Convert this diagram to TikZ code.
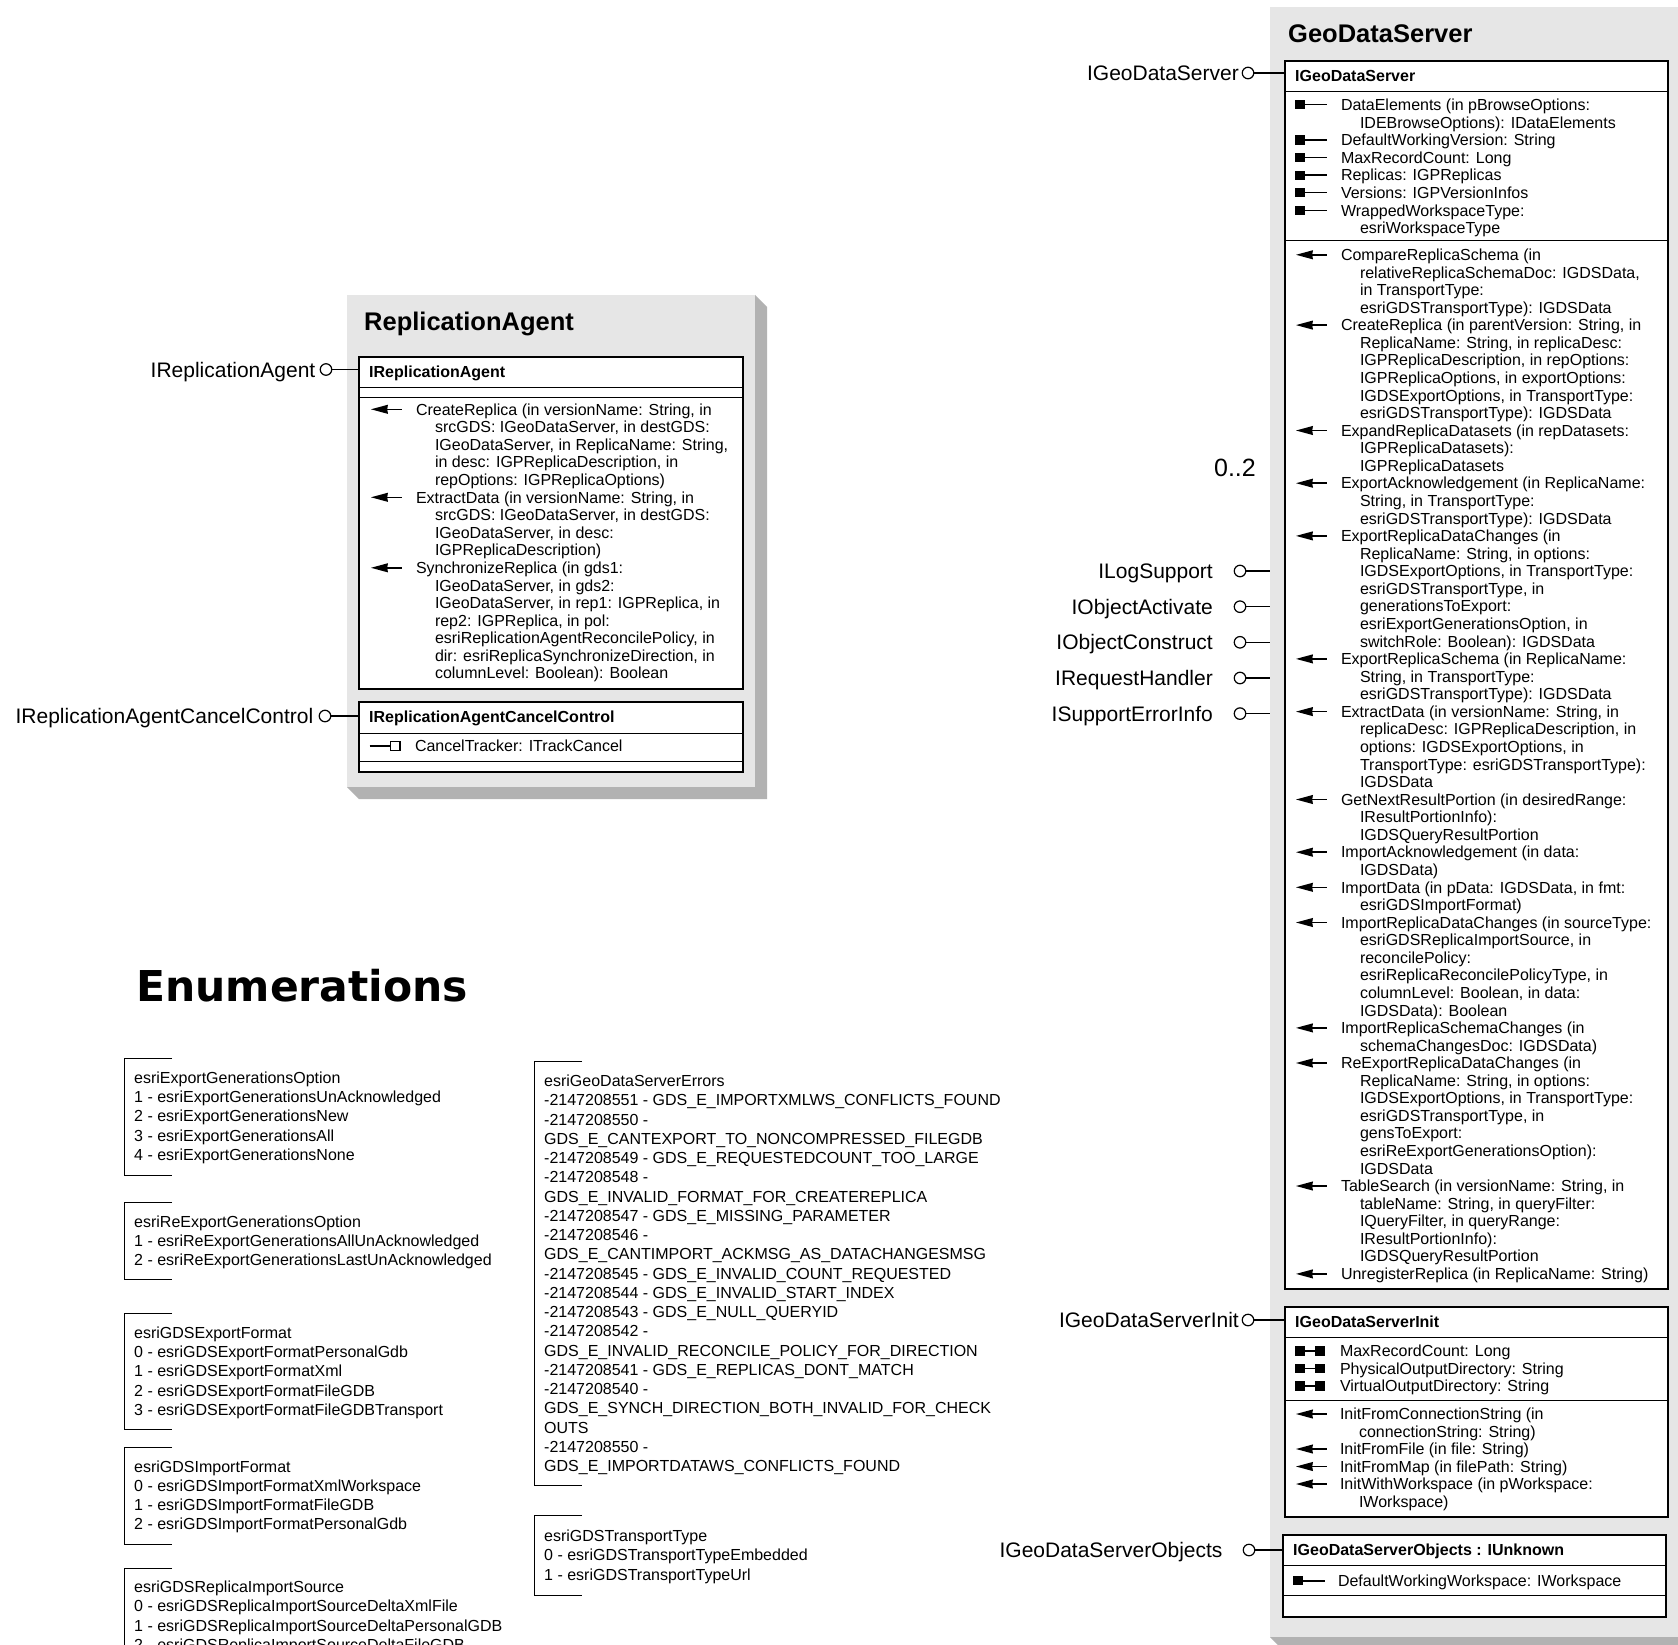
\documentclass[tikz,border=0pt]{standalone}
\usepackage{fontspec}
\setmainfont{Liberation Sans}
\newfontfamily\enumfont{DejaVu Sans}
\definecolor{facegray}{RGB}{230,230,230}
\definecolor{shadowgray}{RGB}{178,178,178}
\newcommand\mlns[2][17.57pt]{\vtop{\baselineskip=#1\lineskiplimit=-50pt\lineskip=0pt\halign{##\hfil\cr#2\crcr}}}
\newcommand\ci{\hskip19pt}
\newcommand\mem[6]{\pic at (#3,#5-5.7) {#2};\node[memtext] (#1) at (#4,#5) {\mlns{#6}};}
\tikzset{
 pget/.pic={\fill[black] (0,-4.6) rectangle (10,4.6); \draw[black,line width=1.4pt] (10,0) -- (32,0);},
 pgetset/.pic={\fill[black] (0,-4.6) rectangle (10,4.6); \fill[black] (20,-4.6) rectangle (30,4.6); \draw[black,line width=1.4pt] (10,0) -- (20,0);},
 pputref/.pic={\draw[black,line width=1.4pt] (0,0) -- (21,0); \draw[black,line width=1.2pt,fill=white] (21,-4.4) rectangle (30.5,4.4);},
 meth/.pic={\fill[black] (0,0) -- (17,-4.6) -- (16.2,0) -- (17,4.6) -- cycle; \draw[black,line width=1.5pt] (15,0) -- (31,0);},
 memtext/.style={anchor=base west, inner sep=0pt, outer sep=0pt, font=\fontsize{16}{17.57}\selectfont},
 hdrtext/.style={anchor=base west, inner sep=0pt, font=\bfseries\fontsize{16}{18}\selectfont},
 titletext/.style={anchor=base west, inner sep=0pt, font=\bfseries\fontsize{25.5}{28}\selectfont},
 lolltext/.style={anchor=base east, inner sep=0pt, font=\fontsize{21}{24}\selectfont},
 enumtext/.style={anchor=base west, inner sep=0pt, font=\fontsize{16}{19.25}\selectfont},
 face/.style={fill=facegray, draw=none, rectangle, anchor=north west, inner sep=0pt, outer sep=0pt},
 ibox/.style={draw=black, line width=1.8pt, fill=white, rectangle, anchor=north west, inner sep=0pt, outer sep=0pt},
 divider/.style={draw=black, line width=0.9pt},
 lolli/.style={draw=black, line width=1.2pt, fill=white, circle, inner sep=0pt, outer sep=0pt, minimum size=11.5pt},
 conn/.style={draw=black, line width=1.2pt},
 bracket/.style={draw=black, line width=1pt},
}
\begin{document}
\begin{tikzpicture}[x=1pt,y=-1pt]
\useasboundingbox (0,0) rectangle (1678,1645);
\clip (0,0) rectangle (1678,1645);
\fill[white] (0,0) rectangle (1678,1645);

% ---------------- ReplicationAgent ----------------
\node[face, minimum width=408, minimum height=492] (ra) at (347,295) {};
\fill[shadowgray] (755,295) -- (767,307) -- (767,799) -- (359,799) -- (347,787) -- (755,787) -- cycle;
\node[titletext] (ratitle) at (364,330) {ReplicationAgent};
\node[ibox, minimum width=384, minimum height=332] (ira) at (359,357) {};
\draw[divider] (359,387) -- (743,387);
\draw[divider] (359,397) -- (743,397);
\node[hdrtext] (irahdr) at (369,377) {IReplicationAgent};
\mem{racreate}{meth}{371}{416}{415}{CreateReplica (in versionName: String, in\cr\ci srcGDS: IGeoDataServer, in destGDS:\cr\ci IGeoDataServer, in ReplicaName: String,\cr\ci in desc: IGPReplicaDescription, in\cr\ci repOptions: IGPReplicaOptions)}
\mem{raextract}{meth}{371}{416}{503}{ExtractData (in versionName: String, in\cr\ci srcGDS: IGeoDataServer, in destGDS:\cr\ci IGeoDataServer, in desc:\cr\ci IGPReplicaDescription)}
\mem{rasync}{meth}{371}{416}{573.5}{SynchronizeReplica (in gds1:\cr\ci IGeoDataServer, in gds2:\cr\ci IGeoDataServer, in rep1: IGPReplica, in\cr\ci rep2: IGPReplica, in pol:\cr\ci esriReplicationAgentReconcilePolicy, in\cr\ci dir: esriReplicaSynchronizeDirection, in\cr\ci columnLevel: Boolean): Boolean}
\node[ibox, minimum width=384, minimum height=70] (iracc) at (359,702) {};
\draw[divider] (359,733) -- (743,733);
\draw[divider] (359,761) -- (743,761);
\node[hdrtext] (iracchdr) at (369,722.5) {IReplicationAgentCancelControl};
\mem{racancel}{pputref}{369.5}{415}{751.5}{CancelTracker: ITrackCancel}

\node[lolli] (lra) at (326,369.5) {};
\draw[conn] (lra.east) -- (lra.east -| ira.west);
\node[lolltext] (lratext) at (315.5,377) {IReplicationAgent};
\node[lolli] (lracc) at (325,716) {};
\draw[conn] (lracc.east) -- (lracc.east -| iracc.west);
\node[lolltext] (lracctext) at (313.5,723.5) {IReplicationAgentCancelControl};

% ---------------- GeoDataServer ----------------
\node[face, minimum width=420, minimum height=1630] (gds) at (1270,7) {};
\fill[shadowgray] (1690,7) -- (1702,19) -- (1702,1649) -- (1282,1649) -- (1270,1637) -- (1690,1637) -- cycle;
\node[titletext] (gdstitle) at (1288,42.5) {GeoDataServer};
\node[ibox, minimum width=383, minimum height=1228] (igds) at (1285,61) {};
\draw[divider] (1285,91) -- (1668,91);
\draw[divider] (1285,240) -- (1668,240);
\node[hdrtext] (igdshdr) at (1295,81.5) {IGeoDataServer};
\mem{gp1}{pget}{1295}{1341}{110.5}{DataElements (in pBrowseOptions:\cr\ci IDEBrowseOptions): IDataElements}
\mem{gp2}{pget}{1295}{1341}{145.7}{DefaultWorkingVersion: String}
\mem{gp3}{pget}{1295}{1341}{163.3}{MaxRecordCount: Long}
\mem{gp4}{pget}{1295}{1341}{180.9}{Replicas: IGPReplicas}
\mem{gp5}{pget}{1295}{1341}{198.5}{Versions: IGPVersionInfos}
\mem{gp6}{pget}{1295}{1341}{216.1}{WrappedWorkspaceType:\cr\ci esriWorkspaceType}

\mem{gm1}{meth}{1296}{1341}{260.5}{CompareReplicaSchema (in\cr\ci relativeReplicaSchemaDoc: IGDSData,\cr\ci in TransportType:\cr\ci esriGDSTransportType): IGDSData}
\mem{gm2}{meth}{1296}{1341}{330.8}{CreateReplica (in parentVersion: String, in\cr\ci ReplicaName: String, in replicaDesc:\cr\ci IGPReplicaDescription, in repOptions:\cr\ci IGPReplicaOptions, in exportOptions:\cr\ci IGDSExportOptions, in TransportType:\cr\ci esriGDSTransportType): IGDSData}
\mem{gm3}{meth}{1296}{1341}{436.2}{ExpandReplicaDatasets (in repDatasets:\cr\ci IGPReplicaDatasets):\cr\ci IGPReplicaDatasets}
\mem{gm4}{meth}{1296}{1341}{488.9}{ExportAcknowledgement (in ReplicaName:\cr\ci String, in TransportType:\cr\ci esriGDSTransportType): IGDSData}
\mem{gm5}{meth}{1296}{1341}{541.6}{ExportReplicaDataChanges (in\cr\ci ReplicaName: String, in options:\cr\ci IGDSExportOptions, in TransportType:\cr\ci esriGDSTransportType, in\cr\ci generationsToExport:\cr\ci esriExportGenerationsOption, in\cr\ci switchRole: Boolean): IGDSData}
\mem{gm6}{meth}{1296}{1341}{664.6}{ExportReplicaSchema (in ReplicaName:\cr\ci String, in TransportType:\cr\ci esriGDSTransportType): IGDSData}
\mem{gm7}{meth}{1296}{1341}{717.3}{ExtractData (in versionName: String, in\cr\ci replicaDesc: IGPReplicaDescription, in\cr\ci options: IGDSExportOptions, in\cr\ci TransportType: esriGDSTransportType):\cr\ci IGDSData}
\mem{gm8}{meth}{1296}{1341}{805.2}{GetNextResultPortion (in desiredRange:\cr\ci IResultPortionInfo):\cr\ci IGDSQueryResultPortion}
\mem{gm9}{meth}{1296}{1341}{857.9}{ImportAcknowledgement (in data:\cr\ci IGDSData)}
\mem{gm10}{meth}{1296}{1341}{893.0}{ImportData (in pData: IGDSData, in fmt:\cr\ci esriGDSImportFormat)}
\mem{gm11}{meth}{1296}{1341}{928.2}{ImportReplicaDataChanges (in sourceType:\cr\ci esriGDSReplicaImportSource, in\cr\ci reconcilePolicy:\cr\ci esriReplicaReconcilePolicyType, in\cr\ci columnLevel: Boolean, in data:\cr\ci IGDSData): Boolean}
\mem{gm12}{meth}{1296}{1341}{1033.6}{ImportReplicaSchemaChanges (in\cr\ci schemaChangesDoc: IGDSData)}
\mem{gm13}{meth}{1296}{1341}{1068.7}{ReExportReplicaDataChanges (in\cr\ci ReplicaName: String, in options:\cr\ci IGDSExportOptions, in TransportType:\cr\ci esriGDSTransportType, in\cr\ci gensToExport:\cr\ci esriReExportGenerationsOption):\cr\ci IGDSData}
\mem{gm14}{meth}{1296}{1341}{1191.7}{TableSearch (in versionName: String, in\cr\ci tableName: String, in queryFilter:\cr\ci IQueryFilter, in queryRange:\cr\ci IResultPortionInfo):\cr\ci IGDSQueryResultPortion}
\mem{gm15}{meth}{1296}{1341}{1279.6}{UnregisterReplica (in ReplicaName: String)}

\node[ibox, minimum width=383, minimum height=210] (init) at (1285,1307) {};
\draw[divider] (1285,1337) -- (1668,1337);
\draw[divider] (1285,1400) -- (1668,1400);
\node[hdrtext] (inithdr) at (1295,1327.5) {IGeoDataServerInit};
\mem{ip1}{pgetset}{1295}{1340}{1356.7}{MaxRecordCount: Long}
\mem{ip2}{pgetset}{1295}{1340}{1374.2}{PhysicalOutputDirectory: String}
\mem{ip3}{pgetset}{1295}{1340}{1391.7}{VirtualOutputDirectory: String}
\mem{im1}{meth}{1296}{1340}{1419.7}{InitFromConnectionString (in\cr\ci connectionString: String)}
\mem{im2}{meth}{1296}{1340}{1454.7}{InitFromFile (in file: String)}
\mem{im3}{meth}{1296}{1340}{1472.2}{InitFromMap (in filePath: String)}
\mem{im4}{meth}{1296}{1340}{1489.7}{InitWithWorkspace (in pWorkspace:\cr\ci IWorkspace)}

\node[ibox, minimum width=383, minimum height=82] (objs) at (1283,1535) {};
\draw[divider] (1283,1565) -- (1666,1565);
\draw[divider] (1283,1595) -- (1666,1595);
\node[hdrtext] (objshdr) at (1293,1555) {IGeoDataServerObjects : IUnknown};
\mem{op1}{pget}{1293}{1338}{1586.5}{DefaultWorkingWorkspace: IWorkspace}

\node[lolli] (lgds) at (1248,73) {};
\draw[conn] (lgds.east) -- (lgds.east -| igds.west);
\node[lolltext] (lgdstext) at (1239,80.5) {IGeoDataServer};
\node[anchor=base east, inner sep=0pt, font=\fontsize{25}{28}\selectfont] (mult) at (1256,476.5) {0..2};

\node[lolli] (l1) at (1240,571) {};
\draw[conn] (l1.east) -- (l1.east -| gds.west);
\node[lolltext] (l1t) at (1213,578.5) {ILogSupport};
\node[lolli] (l2) at (1240,606.7) {};
\draw[conn] (l2.east) -- (l2.east -| gds.west);
\node[lolltext] (l2t) at (1213,614.2) {IObjectActivate};
\node[lolli] (l3) at (1240,642.3) {};
\draw[conn] (l3.east) -- (l3.east -| gds.west);
\node[lolltext] (l3t) at (1213,649.8) {IObjectConstruct};
\node[lolli] (l4) at (1240,678) {};
\draw[conn] (l4.east) -- (l4.east -| gds.west);
\node[lolltext] (l4t) at (1213,685.5) {IRequestHandler};
\node[lolli] (l5) at (1240,713.6) {};
\draw[conn] (l5.east) -- (l5.east -| gds.west);
\node[lolltext] (l5t) at (1213,721.1) {ISupportErrorInfo};

\node[lolli] (linit) at (1248,1320) {};
\draw[conn] (linit.east) -- (linit.east -| init.west);
\node[lolltext] (linitt) at (1239,1327.5) {IGeoDataServerInit};
\node[lolli] (lobjs) at (1249,1550) {};
\draw[conn] (lobjs.east) -- (lobjs.east -| objs.west);
\node[lolltext] (lobjst) at (1222.7,1557.5) {IGeoDataServerObjects};

% ---------------- Enumerations ----------------
\node[anchor=base west, inner sep=0pt, font=\enumfont\bfseries\fontsize{42.5}{48}\selectfont] (enumtitle) at (136,1001) {Enumerations};

\draw[bracket] (172,1058) -- (124,1058) -- (124,1175) -- (172,1175);
\node[enumtext] (en1) at (134,1083.4) {\mlns[19.25pt]{esriExportGenerationsOption\cr 1 - esriExportGenerationsUnAcknowledged\cr 2 - esriExportGenerationsNew\cr 3 - esriExportGenerationsAll\cr 4 - esriExportGenerationsNone}};
\draw[bracket] (172,1202.6) -- (124,1202.6) -- (124,1279.6) -- (172,1279.6);
\node[enumtext] (en2) at (134,1227.2) {\mlns[19.25pt]{esriReExportGenerationsOption\cr 1 - esriReExportGenerationsAllUnAcknowledged\cr 2 - esriReExportGenerationsLastUnAcknowledged}};
\draw[bracket] (172,1313) -- (124,1313) -- (124,1429.5) -- (172,1429.5);
\node[enumtext] (en3) at (134,1338.4) {\mlns[19.25pt]{esriGDSExportFormat\cr 0 - esriGDSExportFormatPersonalGdb\cr 1 - esriGDSExportFormatXml\cr 2 - esriGDSExportFormatFileGDB\cr 3 - esriGDSExportFormatFileGDBTransport}};
\draw[bracket] (172,1447.3) -- (124,1447.3) -- (124,1544.5) -- (172,1544.5);
\node[enumtext] (en4) at (134,1472) {\mlns[19.25pt]{esriGDSImportFormat\cr 0 - esriGDSImportFormatXmlWorkspace\cr 1 - esriGDSImportFormatFileGDB\cr 2 - esriGDSImportFormatPersonalGdb}};
\draw[bracket] (172,1568) -- (124,1568) -- (124,1700);
\node[enumtext] (en5) at (134,1592.7) {\mlns[19.25pt]{esriGDSReplicaImportSource\cr 0 - esriGDSReplicaImportSourceDeltaXmlFile\cr 1 - esriGDSReplicaImportSourceDeltaPersonalGDB\cr 2 - esriGDSReplicaImportSourceDeltaFileGDB}};

\draw[bracket] (582,1061.5) -- (534,1061.5) -- (534,1485) -- (582,1485);
\node[enumtext] (en6) at (544,1086.7) {\mlns[19.25pt]{esriGeoDataServerErrors\cr
-2147208551 - GDS\_E\_IMPORTXMLWS\_CONFLICTS\_FOUND\cr
-2147208550 -\cr
GDS\_E\_CANTEXPORT\_TO\_NONCOMPRESSED\_FILEGDB\cr
-2147208549 - GDS\_E\_REQUESTEDCOUNT\_TOO\_LARGE\cr
-2147208548 -\cr
GDS\_E\_INVALID\_FORMAT\_FOR\_CREATEREPLICA\cr
-2147208547 - GDS\_E\_MISSING\_PARAMETER\cr
-2147208546 -\cr
GDS\_E\_CANTIMPORT\_ACKMSG\_AS\_DATACHANGESMSG\cr
-2147208545 - GDS\_E\_INVALID\_COUNT\_REQUESTED\cr
-2147208544 - GDS\_E\_INVALID\_START\_INDEX\cr
-2147208543 - GDS\_E\_NULL\_QUERYID\cr
-2147208542 -\cr
GDS\_E\_INVALID\_RECONCILE\_POLICY\_FOR\_DIRECTION\cr
-2147208541 - GDS\_E\_REPLICAS\_DONT\_MATCH\cr
-2147208540 -\cr
GDS\_E\_SYNCH\_DIRECTION\_BOTH\_INVALID\_FOR\_CHECK\cr
OUTS\cr
-2147208550 -\cr
GDS\_E\_IMPORTDATAWS\_CONFLICTS\_FOUND}};
\draw[bracket] (582,1515.5) -- (534,1515.5) -- (534,1595.5) -- (582,1595.5);
\node[enumtext] (en7) at (544,1541.5) {\mlns[19.25pt]{esriGDSTransportType\cr 0 - esriGDSTransportTypeEmbedded\cr 1 - esriGDSTransportTypeUrl}};
\end{tikzpicture}
\end{document}
